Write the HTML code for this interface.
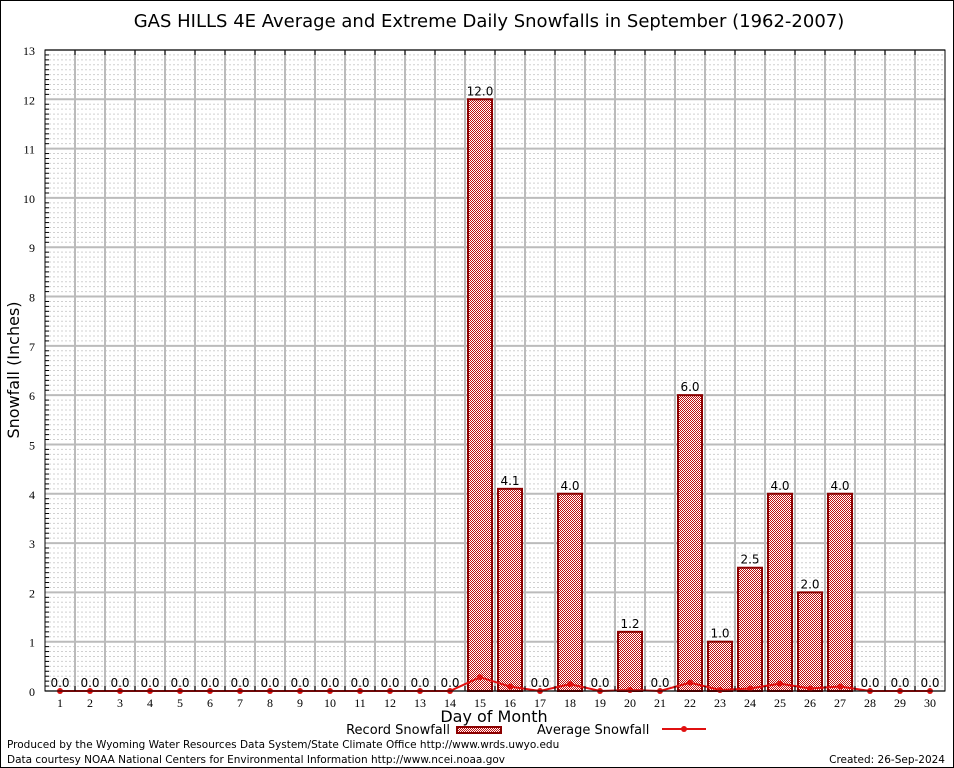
<!DOCTYPE html>
<html><head><meta charset="utf-8"><style>
body{margin:0;background:#fff;}
svg{display:block;font-family:"DejaVu Sans","Liberation Sans",sans-serif;}
</style></head><body>
<svg id="chart" width="954" height="768" viewBox="0 0 954 768">
<defs>
<pattern id="hatch" width="2" height="2" patternUnits="userSpaceOnUse">
<rect width="2" height="2" fill="#fff"/>
<rect width="1" height="1" fill="#c01010"/>
<rect x="1" y="1" width="1" height="1" fill="#c01010"/>
</pattern>
</defs>
<rect x="0.5" y="0.5" width="953" height="767" fill="#fff" stroke="#000"/>
<text x="489" y="27" font-size="18" text-anchor="middle">GAS HILLS 4E Average and Extreme Daily Snowfalls in September (1962-2007)</text>
<g id="grid"></g>
<g id="bars"></g>
<g id="avg"></g>
<g id="axes"></g>
<text x="19" y="370" font-size="16" text-anchor="middle" transform="rotate(-90 19 370)">Snowfall (Inches)</text>
<text x="494" y="722" font-size="16" text-anchor="middle">Day of Month</text>
<g>
<text x="450" y="734" font-size="13" text-anchor="end">Record Snowfall</text>
<rect x="457" y="727" width="44" height="6" fill="url(#hatch)" stroke="#8b0000" stroke-width="2"/>
</g>
<g>
<text x="537" y="734" font-size="13">Average Snowfall</text>
<line x1="662" y1="729" x2="706" y2="729" stroke="#e01010" stroke-width="2"/>
<circle cx="684" cy="729" r="3" fill="#e01010"/>
</g>
<text x="7" y="748" font-size="10.5">Produced by the Wyoming Water Resources Data System/State Climate Office http://www.wrds.uwyo.edu</text>
<text x="7" y="763" font-size="10.5">Data courtesy NOAA National Centers for Environmental Information http://www.ncei.noaa.gov</text>
<text x="945" y="763" font-size="10.5" text-anchor="end">Created: 26-Sep-2024</text>
</svg>
<script>
const days=[1,2,3,4,5,6,7,8,9,10,11,12,13,14,15,16,17,18,19,20,21,22,23,24,25,26,27,28,29,30];
const records=[0,0,0,0,0,0,0,0,0,0,0,0,0,0,12.0,4.1,0,4.0,0,1.2,0,6.0,1.0,2.5,4.0,2.0,4.0,0,0,0];
const averages=[0,0,0,0,0,0,0,0,0,0,0,0,0,0,0.28,0.09,0,0.14,0,0.02,0,0.17,0.02,0.05,0.15,0.05,0.09,0,0,0];
const yTicks=[0,1,2,3,4,5,6,7,8,9,10,11,12,13];
const L=45,R=945,T=50,B=691,yMax=13;
const slot=(R-L)/days.length;
const x=d=>L+(d-0.5)*slot;
const y=v=>B-(v/yMax)*(B-T);
const NS="http://www.w3.org/2000/svg";
function mk(tag,attrs,parent,txt){const e=document.createElementNS(NS,tag);for(const k in attrs)e.setAttribute(k,attrs[k]);if(txt!==undefined)e.textContent=txt;document.getElementById(parent).appendChild(e);return e;}
for(let v=0.1;v<yMax;v+=0.1){if(Math.abs(v-Math.round(v))<0.01)continue;mk('line',{x1:L,x2:R,y1:y(v),y2:y(v),stroke:'#d0d0d0','stroke-dasharray':'2,2','stroke-width':1},'grid');
mk('line',{x1:L,x2:L+4,y1:y(v),y2:y(v),stroke:'#000'},'axes');}
yTicks.forEach(v=>{const g=mk('line',{x1:L,x2:R,y1:y(v),y2:y(v),stroke:'#bbb','stroke-width':2},'grid');

const t=mk('text',{x:L-10,y:y(v)+5,'font-size':12,'text-anchor':'end','font-family':'Liberation Serif, serif'},'axes',String(v));

});
for(let i=1;i<days.length;i++){mk('line',{x1:L+i*slot,x2:L+i*slot,y1:T,y2:B,stroke:'#bbb','stroke-width':2},'grid');
mk('line',{x1:L+i*slot,x2:L+i*slot,y1:T,y2:T+5,stroke:'#000'},'axes');mk('line',{x1:L+i*slot,x2:L+i*slot,y1:B,y2:B-5,stroke:'#000'},'axes');}
mk('rect',{x:L,y:T,width:R-L,height:B-T,fill:'none',stroke:'#000','stroke-width':1},'axes');
days.forEach((d,i)=>{
 const v=records[i];
 if(v>0){const r=mk('rect',{x:x(d)-12,y:y(v),width:24,height:B-y(v),fill:'url(#hatch)',stroke:'#8b0000','stroke-width':2},'bars');
 
 }
 const lb=mk('text',{x:x(d),y:y(v)-4,'font-size':12,'text-anchor':'middle'},'bars',v.toFixed(1));
 
 
 const xl=mk('text',{x:x(d),y:B+16,'font-size':12,'text-anchor':'middle','font-family':'Liberation Serif, serif'},'axes',String(d));
 
 
});
const pts=days.map((d,i)=>x(d)+','+y(averages[i])).join(' ');
const pl=mk('polyline',{points:pts,fill:'none',stroke:'#e01010','stroke-width':2},'avg');


days.forEach((d,i)=>{const c=mk('circle',{cx:x(d),cy:y(averages[i]),r:3,fill:'#e01010'},'avg');

});
</script>
</body></html>
